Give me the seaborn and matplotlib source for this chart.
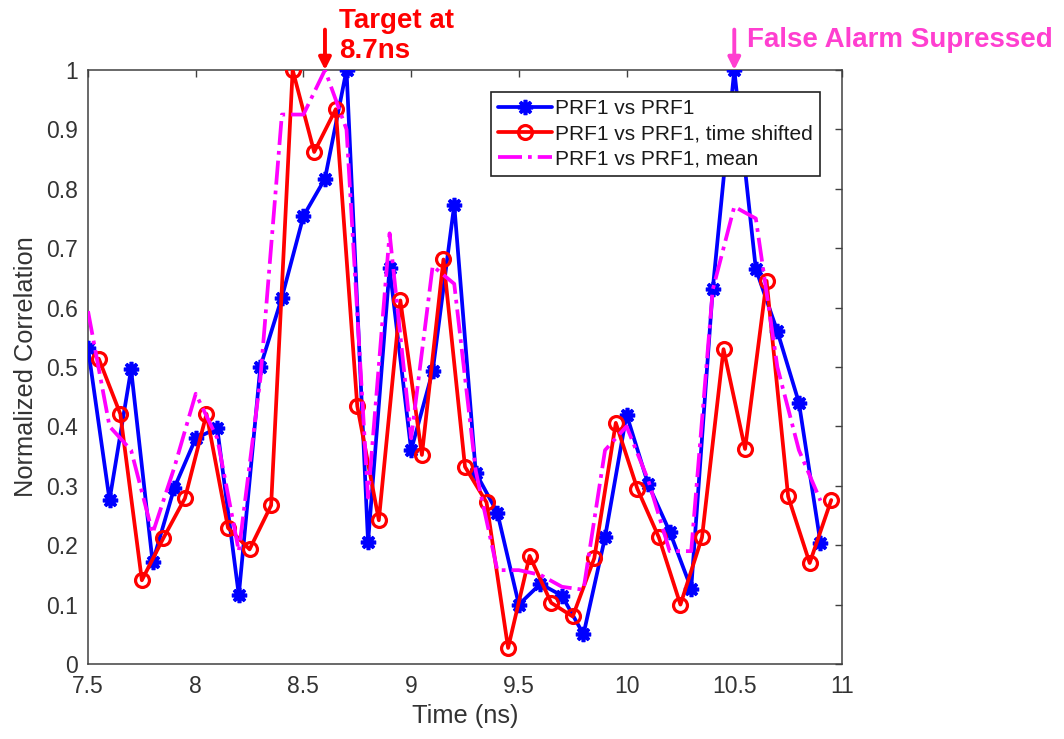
import numpy as np
import pandas as pd
import matplotlib
matplotlib.use("Agg")
import matplotlib.pyplot as plt
import seaborn as sns

# --- data -------------------------------------------------------------
t_ref = [7.5, 7.6, 7.7, 7.8, 7.9, 8.0, 8.1, 8.2, 8.3, 8.4, 8.5, 8.6, 8.7,
         8.8, 8.9, 9.0, 9.1, 9.2, 9.3, 9.4, 9.5, 9.6, 9.7, 9.8, 9.9, 10.0,
         10.1, 10.2, 10.3, 10.4, 10.5, 10.6, 10.7, 10.8, 10.9]
prf1 = [0.532, 0.276, 0.496, 0.171, 0.296, 0.380, 0.397, 0.116, 0.500,
        0.617, 0.754, 0.817, 1.000, 0.205, 0.667, 0.360, 0.493, 0.773,
        0.322, 0.255, 0.100, 0.135, 0.115, 0.050, 0.213, 0.420, 0.303,
        0.223, 0.127, 0.631, 1.000, 0.665, 0.560, 0.440, 0.204]

t_shift = [7.55, 7.65, 7.75, 7.85, 7.95, 8.05, 8.15, 8.25, 8.35, 8.45,
           8.55, 8.65, 8.75, 8.85, 8.95, 9.05, 9.15, 9.25, 9.35, 9.45,
           9.55, 9.65, 9.75, 9.85, 9.95, 10.05, 10.15, 10.25, 10.35,
           10.45, 10.55, 10.65, 10.75, 10.85, 10.95]
prf1_shift = [0.514, 0.421, 0.141, 0.212, 0.279, 0.421, 0.229, 0.193,
              0.267, 1.000, 0.862, 0.934, 0.434, 0.242, 0.612, 0.352,
              0.681, 0.332, 0.272, 0.027, 0.182, 0.103, 0.080, 0.178,
              0.406, 0.295, 0.213, 0.100, 0.213, 0.530, 0.362, 0.645,
              0.282, 0.170, 0.276]

prf1_mean = [0.594, 0.400, 0.360, 0.220, 0.330, 0.455, 0.380, 0.190,
             0.480, 0.925, 0.925, 1.000, 0.900, 0.280, 0.725, 0.380,
             0.670, 0.640, 0.325, 0.158, 0.158, 0.150, 0.130, 0.125,
             0.360, 0.400, 0.310, 0.190, 0.190, 0.630, 0.770, 0.750,
             0.500, 0.360, 0.275]

x_ticks = [7.5, 8, 8.5, 9, 9.5, 10, 10.5, 11]
x_tick_labels = ["7.5", "8", "8.5", "9", "9.5", "10", "10.5", "11"]
y_ticks = [0, 0.1, 0.2, 0.3, 0.4, 0.5, 0.6, 0.7, 0.8, 0.9, 1.0]
y_tick_labels = ["0", "0.1", "0.2", "0.3", "0.4", "0.5", "0.6", "0.7",
                 "0.8", "0.9", "1"]

series_labels = ["PRF1 vs PRF1", "PRF1 vs PRF1, time shifted",
                 "PRF1 vs PRF1, mean"]

# --- styling ----------------------------------------------------------
sns.set_theme(style="white")
plt.rcParams["font.family"] = ["Liberation Sans", "DejaVu Sans"]

fig = plt.figure(figsize=(10.64, 7.39), dpi=100)
ax = fig.add_axes([88 / 1064, 1 - 664 / 739, 754 / 1064, 594 / 739])

df_ref = pd.DataFrame({"t": t_ref, "v": prf1})
df_shift = pd.DataFrame({"t": t_shift, "v": prf1_shift})
df_mean = pd.DataFrame({"t": t_ref, "v": prf1_mean})

# asterisk marker drawn as 8 thick spokes
asterisk = (8, 2, 0)

sns.lineplot(data=df_ref, x="t", y="v", ax=ax, color="#0000ff",
             linewidth=2.7, marker=asterisk, markersize=11,
             markeredgewidth=2.6, markeredgecolor="#0000ff",
             markerfacecolor="#0000ff", label=series_labels[0], zorder=3)
sns.lineplot(data=df_shift, x="t", y="v", ax=ax, color="#ff0000",
             linewidth=2.7, marker="o", markersize=10,
             markeredgewidth=2.3, markeredgecolor="#ff0000",
             markerfacecolor="none", label=series_labels[1], zorder=4)
sns.lineplot(data=df_mean, x="t", y="v", ax=ax, color="#ff00ff",
             linewidth=2.7, linestyle="-.", label=series_labels[2],
             zorder=5)

ax.set_xlim(7.5, 11)
ax.set_ylim(0, 1)
ax.set_xticks(x_ticks)
ax.set_xticklabels(x_tick_labels)
ax.set_yticks(y_ticks)
ax.set_yticklabels(y_tick_labels)

text_col = "#333333"
ax.tick_params(axis="both", direction="in", length=5, width=1,
               colors="#404040", labelcolor=text_col, labelsize=16.5,
               top=True, right=True)
ax.tick_params(axis="x", pad=8)
ax.tick_params(axis="y", pad=7)
for side in ax.spines.values():
    side.set_color("#404040")
    side.set_linewidth(1.1)

ax.set_xlabel("Time (ns)", fontsize=18.3, color=text_col, labelpad=4)
ax.set_ylabel("Normalized Correlation", fontsize=18.3, color=text_col,
              labelpad=6)

leg = ax.legend(loc="upper right", bbox_to_anchor=(0.971, 0.963),
                borderaxespad=0, fontsize=15, frameon=True, fancybox=False,
                framealpha=1, edgecolor="#222222", handlelength=2.6,
                handletextpad=0.15, labelspacing=0.3, borderpad=0.35)
leg.get_frame().set_linewidth(1.2)
for txt in leg.get_texts():
    txt.set_color("#1a1a1a")

# --- annotations ------------------------------------------------------
ax.annotate("", xy=(8.6, 1.0), xytext=(8.6, 1.068),
            arrowprops=dict(arrowstyle="-|>", color="#ff0000", lw=2.8,
                            mutation_scale=18, shrinkA=0, shrinkB=0),
            annotation_clip=False)
ax.text(8.665, 1.104, "Target at\n8.7ns", color="#ff0000", fontsize=20,
        fontweight="bold", ha="left", va="top", clip_on=False)

ax.annotate("", xy=(10.5, 1.0), xytext=(10.5, 1.068),
            arrowprops=dict(arrowstyle="-|>", color="#ff3fd0", lw=2.8,
                            mutation_scale=18, shrinkA=0, shrinkB=0),
            annotation_clip=False)
ax.text(10.56, 1.05, "False Alarm Supressed", color="#ff3fd0", fontsize=20,
        fontweight="bold", ha="left", va="center", clip_on=False)

fig.savefig("out.png", dpi=100)
